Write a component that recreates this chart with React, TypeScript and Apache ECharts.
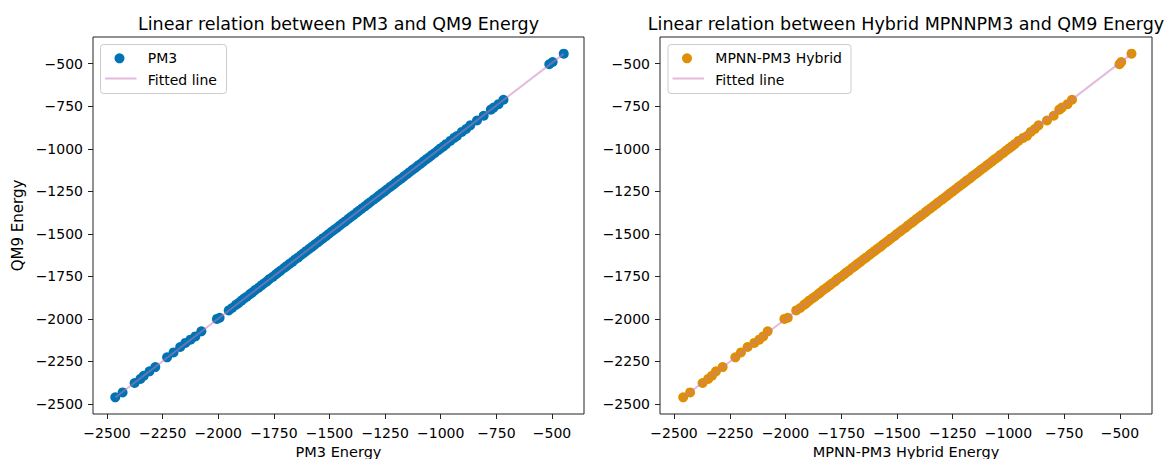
import React, { useEffect, useRef } from "react";
import * as echarts from "echarts";

// PM3 energies (x, left panel)
const pm3Energy = [
  -2463, -2430, -2376, -2350, -2335, -2309, -2283, -2230, -2201, -2171, -2148, -2125, -2103, -2076, -2006, -1994, -1953, -1938,
  -1921, -1909, -1896, -1884, -1872, -1857, -1846, -1833, -1818, -1806, -1795, -1781, -1770, -1755, -1742, -1731, -1719, -1704, -1693, -1680,
  -1667, -1655, -1642, -1629, -1617, -1605, -1591, -1579, -1566, -1553, -1542, -1530, -1516, -1504, -1491, -1479, -1466, -1454, -1441, -1429,
  -1415, -1403, -1391, -1377, -1366, -1353, -1339, -1327, -1316, -1302, -1290, -1278, -1265, -1252, -1241, -1227, -1215, -1203, -1190, -1178,
  -1165, -1152, -1141, -1127, -1115, -1102, -1090, -1077, -1064, -1052, -1040, -1027, -1013, -1001, -988, -976,
  -957, -940, -927, -905, -886, -867, -837, -807, -775, -762, -740, -718, -512, -497, -447,
];

// QM9 energies (y, both panels)
const qm9Energy = [
  -2461, -2432, -2377, -2353, -2334, -2308, -2283, -2226, -2197, -2165, -2141, -2122, -2103, -2073, -2000, -1993, -1950, -1936,
  -1918, -1907, -1893, -1880, -1870, -1854, -1844, -1829, -1816, -1803, -1792, -1779, -1766, -1753, -1739, -1728, -1716, -1701, -1690, -1677,
  -1665, -1651, -1640, -1626, -1614, -1602, -1588, -1577, -1563, -1551, -1539, -1527, -1514, -1501, -1488, -1476, -1464, -1451, -1438, -1427,
  -1412, -1400, -1389, -1374, -1363, -1350, -1337, -1324, -1313, -1299, -1288, -1275, -1262, -1250, -1238, -1224, -1213, -1200, -1187, -1176,
  -1162, -1150, -1138, -1124, -1113, -1099, -1088, -1074, -1061, -1050, -1037, -1025, -1010, -998, -986, -973,
  -954, -936, -925, -901, -884, -862, -834, -806, -770, -758, -738, -712, -503, -490, -441,
];

// MPNN-PM3 hybrid energies (x, right panel)
const hybridEnergy = [
  -2459, -2428, -2372, -2347, -2330, -2312, -2282, -2225, -2200, -2170, -2140, -2118, -2100, -2080, -2005, -1990, -1952, -1934,
  -1917, -1906, -1894, -1880, -1869, -1853, -1843, -1830, -1815, -1802, -1792, -1777, -1767, -1752, -1738, -1728, -1715, -1701, -1689, -1677,
  -1664, -1651, -1639, -1625, -1614, -1601, -1588, -1575, -1563, -1550, -1538, -1527, -1512, -1501, -1487, -1476, -1462, -1451, -1437, -1426,
  -1412, -1399, -1388, -1373, -1363, -1349, -1336, -1323, -1313, -1298, -1287, -1274, -1262, -1249, -1237, -1224, -1212, -1199, -1187, -1174,
  -1162, -1149, -1137, -1124, -1112, -1098, -1087, -1073, -1061, -1048, -1037, -1023, -1010, -997, -985, -972,
  -955, -934, -917, -900, -882, -865, -827, -797, -772, -760, -735, -715, -502, -494, -448,
];

// Fitted lines (end points)
const fitPm3X = [-2463, -447];
const fitPm3Y = [-2462, -442];
const fitHybridX = [-2459, -448];
const fitHybridY = [-2462, -442];

// Axis ticks and limits
const tickValues = [-2500, -2250, -2000, -1750, -1500, -1250, -1000, -750, -500];
const xLimits = [-2563, -356];
const yLimits = [-2559, -343];

const titles = [
  "Linear relation between PM3 and QM9 Energy",
  "Linear relation between Hybrid MPNNPM3 and QM9 Energy",
];
const xNames = ["PM3 Energy", "MPNN-PM3 Hybrid Energy"];
const yName = "QM9 Energy";
const scatterNames = ["PM3", "MPNN-PM3 Hybrid"];
const fitName = "Fitted line";

const BLUE = "#0173b2";
const ORANGE = "#de8f05";
const PINK = "rgba(204,120,188,0.5)";
const FONT = "DejaVu Sans";
const SPINE = "#222";

const fmt = (v: number) => String(v).replace("-", "\u2212");

export default function App() {
  const ref = useRef<HTMLDivElement>(null);

  useEffect(() => {
    document.body.style.margin = "0";
    if (!ref.current) return;
    const chart = echarts.init(ref.current, undefined, { renderer: "svg" });

    const grids = [
      { left: 93, top: 37, width: 491, height: 377 },
      { left: 660, top: 37, width: 492, height: 377 },
    ];

    const makeX = (i: number) => ({
      type: "value",
      gridIndex: i,
      min: xLimits[0],
      max: xLimits[1],
      name: xNames[i],
      nameLocation: "middle",
      nameGap: 29,
      nameTextStyle: { fontFamily: FONT, fontSize: 14.5, color: "#000" },
      axisLine: { show: false },
      splitLine: { show: false },
      axisTick: { show: true, length: 5, inside: false, customValues: tickValues, lineStyle: { color: SPINE, width: 1 } },
      axisLabel: { customValues: tickValues, formatter: fmt, margin: 12, fontFamily: FONT, fontSize: 14, color: "#000" },
    });

    const makeY = (i: number) => ({
      type: "value",
      gridIndex: i,
      min: yLimits[0],
      max: yLimits[1],
      name: i === 0 ? yName : "",
      nameLocation: "middle",
      nameGap: 68,
      nameRotate: 90,
      nameTextStyle: { fontFamily: FONT, fontSize: 15, color: "#000" },
      axisLine: { show: false },
      splitLine: { show: false },
      axisTick: { show: true, length: 5, inside: false, customValues: tickValues, lineStyle: { color: SPINE, width: 1 } },
      axisLabel: { customValues: tickValues, formatter: fmt, margin: 10, fontFamily: FONT, fontSize: 14, color: "#000" },
    });

    const pts0 = pm3Energy.map((x, k) => [x, qm9Energy[k]]);
    const pts1 = hybridEnergy.map((x, k) => [x, qm9Energy[k]]);
    const fit0 = fitPm3X.map((x, k) => [x, fitPm3Y[k]]);
    const fit1 = fitHybridX.map((x, k) => [x, fitHybridY[k]]);

    const legendFor = (left: number, width: number, color: string, label: string) => {
      const top = 44.5;
      return [
        {
          type: "rect",
          z: 100,
          shape: { x: left, y: top, width, height: 49, r: 3 },
          style: { fill: "rgba(255,255,255,0.8)", stroke: "#cccccc", lineWidth: 1 },
        },
        { type: "circle", z: 101, shape: { cx: left + 19, cy: 58.3, r: 5 }, style: { fill: color } },
        {
          type: "text",
          z: 101,
          x: left + 47.3,
          y: 58,
          style: { text: label, fontFamily: FONT, fontSize: 14, fill: "#000", verticalAlign: "middle", align: "left" },
        },
        {
          type: "line",
          z: 101,
          shape: { x1: left + 4.5, y1: 78.5, x2: left + 36, y2: 78.5 },
          style: { stroke: PINK, lineWidth: 2 },
        },
        {
          type: "text",
          z: 101,
          x: left + 47.3,
          y: 79.5,
          style: { text: fitName, fontFamily: FONT, fontSize: 14, fill: "#000", verticalAlign: "middle", align: "left" },
        },
      ];
    };

    const option: any = {
      animation: false,
      backgroundColor: "#fff",
      grid: grids.map((g) => ({
        ...g,
        show: true,
        borderColor: SPINE,
        borderWidth: 1,
        backgroundColor: "transparent",
        containLabel: false,
        outerBoundsMode: "none",
      })),
      xAxis: [makeX(0), makeX(1)],
      yAxis: [makeY(0), makeY(1)],
      series: [
        {
          name: scatterNames[0],
          type: "scatter",
          xAxisIndex: 0,
          yAxisIndex: 0,
          data: pts0,
          symbolSize: 10,
          itemStyle: { color: BLUE, opacity: 1 },
        },
        {
          name: fitName,
          type: "line",
          xAxisIndex: 0,
          yAxisIndex: 0,
          data: fit0,
          showSymbol: false,
          symbol: "none",
          lineStyle: { color: PINK, width: 2 },
        },
        {
          name: scatterNames[1],
          type: "scatter",
          xAxisIndex: 1,
          yAxisIndex: 1,
          data: pts1,
          symbolSize: 10,
          itemStyle: { color: ORANGE, opacity: 1 },
        },
        {
          name: fitName,
          type: "line",
          xAxisIndex: 1,
          yAxisIndex: 1,
          data: fit1,
          showSymbol: false,
          symbol: "none",
          lineStyle: { color: PINK, width: 2 },
        },
      ],
      graphic: [
        {
          type: "text",
          x: 338.5,
          y: 24,
          style: { text: titles[0], fontFamily: FONT, fontSize: 17.5, fill: "#000", align: "center", verticalAlign: "middle" },
        },
        {
          type: "text",
          x: 906,
          y: 24,
          style: { text: titles[1], fontFamily: FONT, fontSize: 17.5, fill: "#000", align: "center", verticalAlign: "middle" },
        },
        ...legendFor(100.5, 126, BLUE, scatterNames[0]),
        ...legendFor(668, 183, ORANGE, scatterNames[1]),
      ],
    };

    chart.setOption(option);
    return () => chart.dispose();
  }, []);

  return <div ref={ref} style={{ width: 1167, height: 459 }} />;
}
